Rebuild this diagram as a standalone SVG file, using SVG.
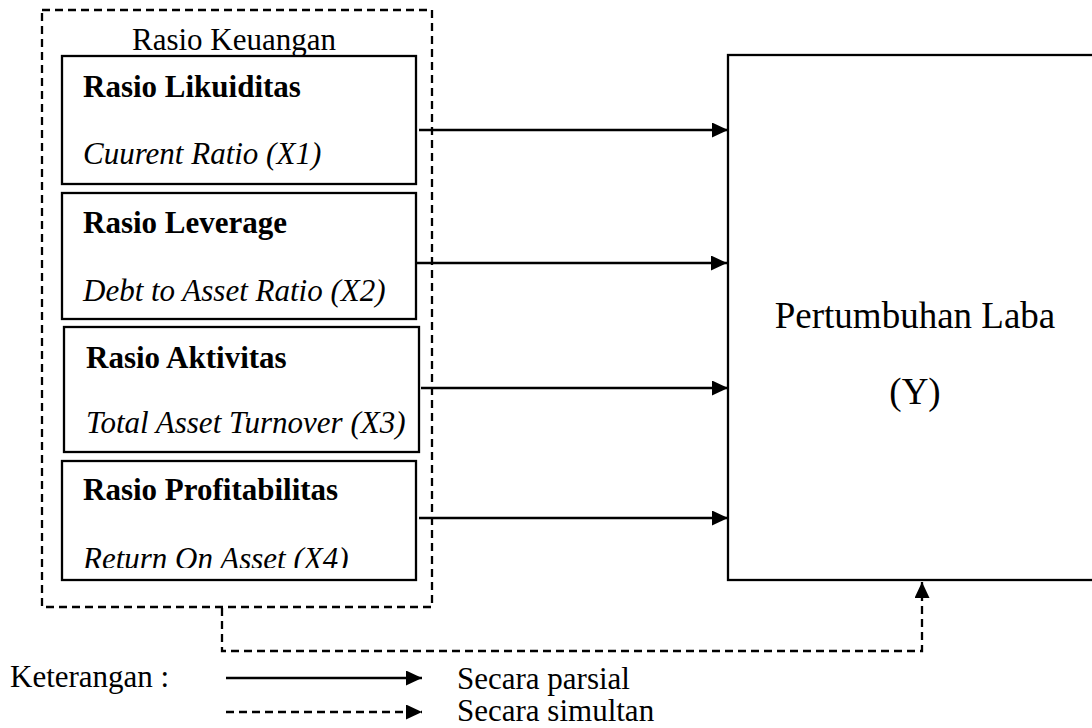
<svg xmlns="http://www.w3.org/2000/svg" width="1092" height="728" viewBox="0 0 1092 728">
<style>
  text { font-family: "Liberation Serif", "Times New Roman", serif; fill: #000; }
  .t { font-size: 31px; }
  .b { font-size: 31px; font-weight: bold; }
  .i { font-size: 31px; font-style: italic; }
  .big { font-size: 37px; }
  .box { fill: #fff; stroke: #000; stroke-width: 2.3; }
  .dash { fill: none; stroke: #000; stroke-width: 2.3; stroke-dasharray: 8 5; }
  .solid { fill: none; stroke: #000; stroke-width: 2.5; }
</style>
<defs>
  <marker id="ah" viewBox="0 0 16 15" markerWidth="16" markerHeight="15" refX="16" refY="7.5" orient="auto" markerUnits="userSpaceOnUse">
    <path d="M0,0 L16,7.5 L0,15 Z" fill="#000"/>
  </marker>
  <clipPath id="clip4"><rect x="62" y="461" width="354" height="107"/></clipPath>
</defs>
<rect width="1092" height="728" fill="#fff"/>

<g id="rasio-keuangan">
  <rect x="42" y="10" width="390" height="597" class="dash"/>
  <text x="132" y="50" class="t">Rasio Keuangan</text>
</g>

<g id="x1">
  <rect x="62" y="56" width="354" height="128" class="box"/>
  <text x="83" y="97" class="b">Rasio Likuiditas</text>
  <text x="83" y="164" class="i">Cuurent Ratio (X1)</text>
</g>

<g id="x2">
  <rect x="62" y="193" width="354" height="126" class="box"/>
  <text x="83" y="233" class="b">Rasio Leverage</text>
  <text x="83" y="301" class="i">Debt to Asset Ratio (X2)</text>
</g>

<g id="x3">
  <rect x="64" y="327" width="355" height="125" class="box"/>
  <text x="86" y="368" class="b">Rasio Aktivitas</text>
  <text x="86" y="433" class="i">Total Asset Turnover (X3)</text>
</g>

<g id="x4">
  <rect x="62" y="461" width="354" height="119" class="box"/>
  <text x="83" y="500" class="b">Rasio Profitabilitas</text>
  <text x="83" y="569" class="i" clip-path="url(#clip4)">Return On Asset (X4)</text>
</g>

<g id="y">
  <rect x="728" y="55" width="380" height="525" class="box"/>
  <text x="915" y="328" class="big" text-anchor="middle">Pertumbuhan Laba</text>
  <text x="915" y="404" class="big" text-anchor="middle">(Y)</text>
</g>

<g id="connectors">
  <line x1="419" y1="130" x2="728" y2="130" class="solid" marker-end="url(#ah)"/>
  <line x1="416" y1="263" x2="727" y2="263" class="solid" marker-end="url(#ah)"/>
  <line x1="421" y1="388" x2="728" y2="388" class="solid" marker-end="url(#ah)"/>
  <line x1="419" y1="518" x2="728" y2="518" class="solid" marker-end="url(#ah)"/>
  <polyline points="222,608 222,651 922,651 922,582" class="dash" marker-end="url(#ah)"/>
</g>

<g id="legend">
  <text x="10" y="687" class="t">Keterangan :</text>
  <line x1="226" y1="678" x2="422" y2="678" class="solid" marker-end="url(#ah)"/>
  <text x="457" y="689" class="t">Secara parsial</text>
  <line x1="226" y1="712" x2="422" y2="712" class="dash" marker-end="url(#ah)"/>
  <text x="457" y="721" class="t">Secara simultan</text>
</g>
</svg>
